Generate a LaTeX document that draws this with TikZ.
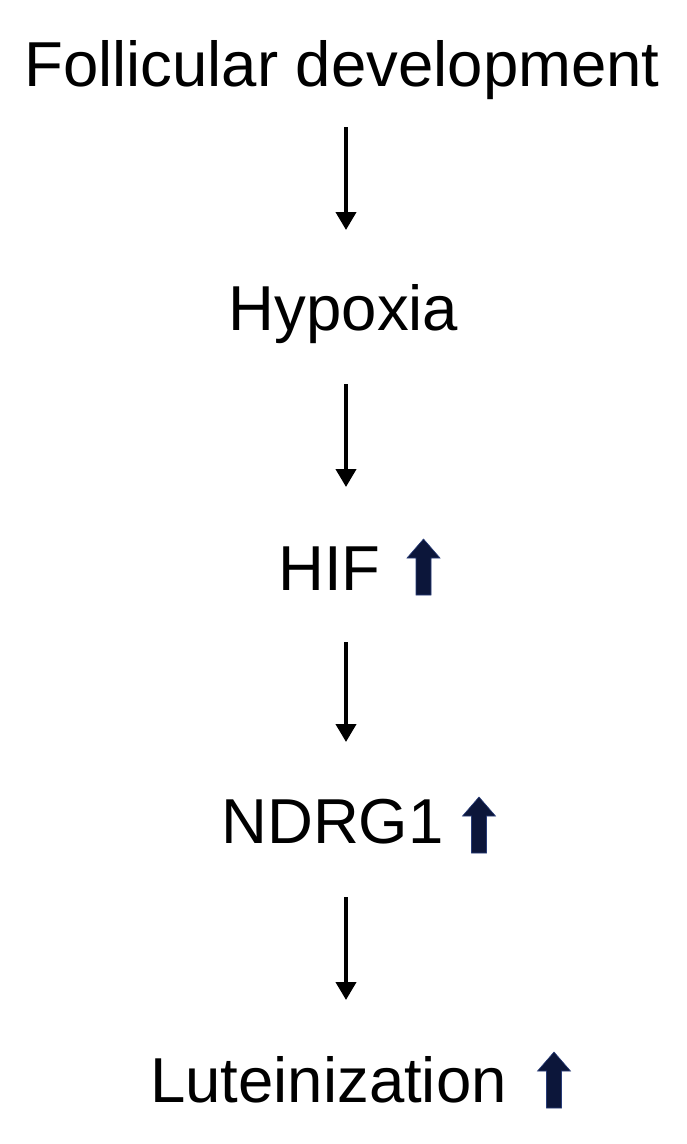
\documentclass[tikz,border=0pt]{standalone}
\usepackage{fontspec}
\setmainfont{Liberation Sans}
\usetikzlibrary{arrows.meta}
\definecolor{upblue}{RGB}{12,22,58}
\tikzset{
  label/.style={inner sep=0pt, anchor=base, font=\fontsize{63.5}{70}\selectfont},
  flow/.style={line width=4pt, -{Triangle[width=20pt,length=18pt]}},
  uparrow/.pic={\fill[upblue, draw={rgb,255:red,40;green,60;blue,120}, line width=0.6pt]
     (-7.5,0) -- (-7.5,-37) -- (-16.5,-37) -- (0,-56) -- (16.5,-37) -- (7.5,-37) -- (7.5,0) -- cycle;}
}
\begin{document}
\begin{tikzpicture}[x=1pt,y=-1pt]
\useasboundingbox[fill=white] (0,0) rectangle (686,1144);
\node[label] (fol) at (342,86) {Follicular development};
\node[label] (hyp) at (343.5,330) {Hypoxia};
\node[label] (hif) at (329.5,590) {HIF};
\node[label] (ndrg) at (332.5,843) {NDRG1};
\node[label] (lut) at (328.5,1102) {Luteinization};
\coordinate (a1s) at (346,127); \coordinate (a1e) at (346,230);
\coordinate (a2s) at (346,384); \coordinate (a2e) at (346,487);
\coordinate (a3s) at (346,642); \coordinate (a3e) at (346,742);
\coordinate (a4s) at (346,897); \coordinate (a4e) at (346,1000);
\draw[flow] (a1s) -- (a1e);
\draw[flow] (a2s) -- (a2e);
\draw[flow] (a3s) -- (a3e);
\draw[flow] (a4s) -- (a4e);
\pic at (423.5,595) {uparrow};
\pic at (479,853) {uparrow};
\pic at (554,1108) {uparrow};
\end{tikzpicture}
\end{document}
